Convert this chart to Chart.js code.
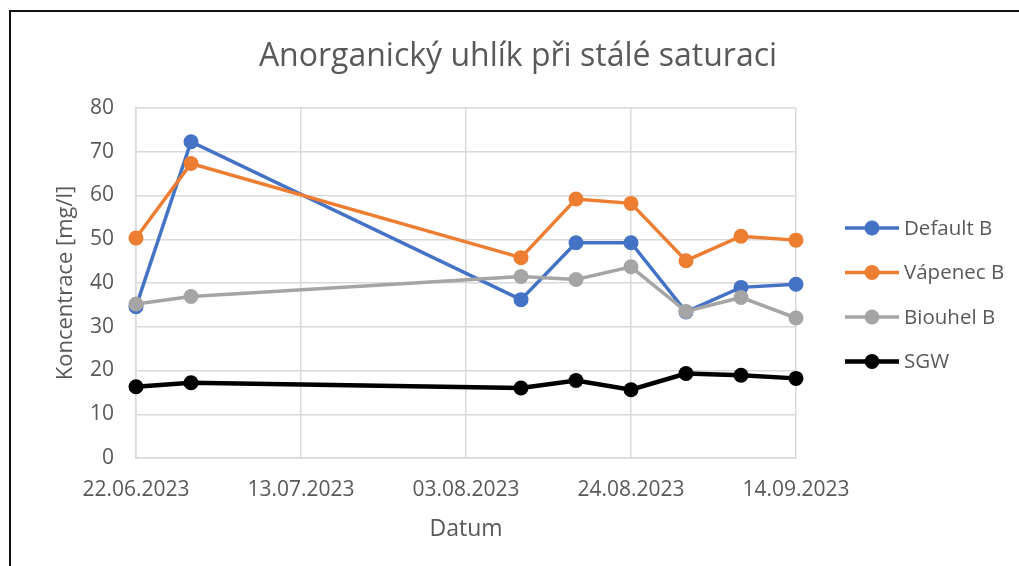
<!DOCTYPE html>
<html lang="cs">
<head>
  <meta charset="UTF-8">
  <title>Anorganický uhlík při stálé saturaci</title>
  <script src="https://cdn.jsdelivr.net/npm/chart.js@4.4.1/dist/chart.umd.min.js"></script>
</head>
<style>
* {
  margin: 0;
  padding: 0;
  box-sizing: border-box;
}

body {
  width: 1019px;
  height: 566px;
  overflow: hidden;
  background: #fff;
  position: relative;
}

.frame {
  position: absolute;
  left: 9px;
  top: 10px;
  width: 1100px;
  height: 700px;
  border-left: 2px solid #111;
  border-top: 2px solid #111;
}

#chart {
  position: absolute;
  left: 0;
  top: 0;
}
</style>
<body>
<div class="frame"></div>
<canvas id="chart" width="1019" height="566"></canvas>

<script>
// sampling dates
const dates = ["22.06.2023", "29.06.2023", "10.08.2023", "17.08.2023", "24.08.2023", "31.08.2023", "07.09.2023", "14.09.2023"];
const xTickLabels = ["22.06.2023", "13.07.2023", "03.08.2023", "24.08.2023", "14.09.2023"];

const defaultB = [34.6, 72.3, 36.2, 49.2, 49.2, 33.4, 39.0, 39.7];
const vapenecB = [50.3, 67.3, 45.8, 59.2, 58.2, 45.1, 50.7, 49.8];
const biouhelB = [35.2, 36.9, 41.5, 40.8, 43.7, 33.5, 36.7, 32.0];
const sgw = [16.3, 17.2, 16.0, 17.7, 15.6, 19.3, 18.9, 18.2];

const seriesNames = ["Default B", "Vápenec B", "Biouhel B", "SGW"];
const seriesColors = ["#4472C4", "#ED7D31", "#A5A5A5", "#000000"];
const chartTitle = "Anorganický uhlík při stálé saturaci";

const textColor = "#595959";
const gridColor = "#D9D9D9";
const fontFamily = "'Open Sans', 'Noto Sans', sans-serif";

const toDay = (s) => {
  const [d, m, y] = s.split(".").map(Number);
  return Date.UTC(y, m - 1, d) / 86400000;
};
const day0 = toDay(dates[0]);
const xs = dates.map((s) => toDay(s) - day0);

const makeSet = (idx, values, width, order) => ({
  label: seriesNames[idx],
  data: values.map((v, i) => ({ x: xs[i], y: v })),
  borderColor: seriesColors[idx],
  backgroundColor: seriesColors[idx],
  pointBackgroundColor: seriesColors[idx],
  pointBorderColor: seriesColors[idx],
  borderWidth: width,
  pointRadius: 7.5,
  pointBorderWidth: 0,
  tension: 0,
  clip: false,
  order: order
});

// title and legend drawn by hand so they sit where the original has them
const decorations = {
  id: "decorations",
  afterDraw(chart) {
    const ctx = chart.ctx;
    ctx.save();
    ctx.fillStyle = textColor;
    ctx.font = "32px " + fontFamily;
    ctx.textAlign = "center";
    ctx.textBaseline = "middle";
    ctx.fillText(chartTitle, 518, 57);

    const rows = [228, 272.5, 317, 361.5];
    chart.data.datasets.forEach((ds, i) => {
      const y = rows[i];
      ctx.strokeStyle = ds.borderColor;
      ctx.lineWidth = ds.borderWidth;
      ctx.beginPath();
      ctx.moveTo(845, y);
      ctx.lineTo(899, y);
      ctx.stroke();
      ctx.fillStyle = ds.borderColor;
      ctx.beginPath();
      ctx.arc(872, y, 7.5, 0, Math.PI * 2);
      ctx.fill();
      ctx.fillStyle = textColor;
      ctx.font = "20.5px " + fontFamily;
      ctx.textAlign = "left";
      ctx.fillText(ds.label, 904, y + 1);
    });
    ctx.restore();
  }
};

new Chart(document.getElementById("chart"), {
  type: "line",
  plugins: [decorations],
  data: {
    datasets: [
      makeSet(0, defaultB, 3.5, 4),
      makeSet(1, vapenecB, 3.5, 3),
      makeSet(2, biouhelB, 3.5, 2),
      makeSet(3, sgw, 4.5, 1)
    ]
  },
  options: {
    responsive: false,
    devicePixelRatio: 1,
    animation: false,
    layout: { padding: { left: 0, right: 223, top: 108, bottom: 0 } },
    plugins: {
      legend: { display: false },
      tooltip: { enabled: false },
      title: { display: false }
    },
    scales: {
      x: {
        type: "linear",
        min: 0,
        max: 84,
        afterFit: (scale) => { scale.height = 108; },
        afterBuildTicks: (scale) => {
          scale.ticks = xTickLabels.map((_, i) => ({ value: i * 21 }));
        },
        ticks: {
          color: textColor,
          font: { family: fontFamily, size: 21 },
          padding: 19,
          maxRotation: 0,
          callback: (v) => xTickLabels[Math.round(v / 21)]
        },
        grid: { color: gridColor, lineWidth: 1.5, drawTicks: false },
        border: { color: gridColor, width: 1.5 },
        title: {
          display: true,
          text: "Datum",
          color: textColor,
          font: { family: fontFamily, size: 23 },
          padding: { top: 0, bottom: 23 }
        }
      },
      y: {
        min: 0,
        max: 80,
        afterFit: (scale) => { scale.width = 136; },
        ticks: {
          stepSize: 10,
          color: textColor,
          font: { family: fontFamily, size: 21 },
          padding: 22
        },
        grid: { color: gridColor, lineWidth: 1.5, drawTicks: false },
        border: { color: gridColor, width: 1.5 },
        title: {
          display: true,
          text: "Koncentrace [mg/l]",
          color: textColor,
          font: { family: fontFamily, size: 22 },
          padding: { top: 53, bottom: 0 }
        }
      }
    }
  }
});
</script>
</body>
</html>
